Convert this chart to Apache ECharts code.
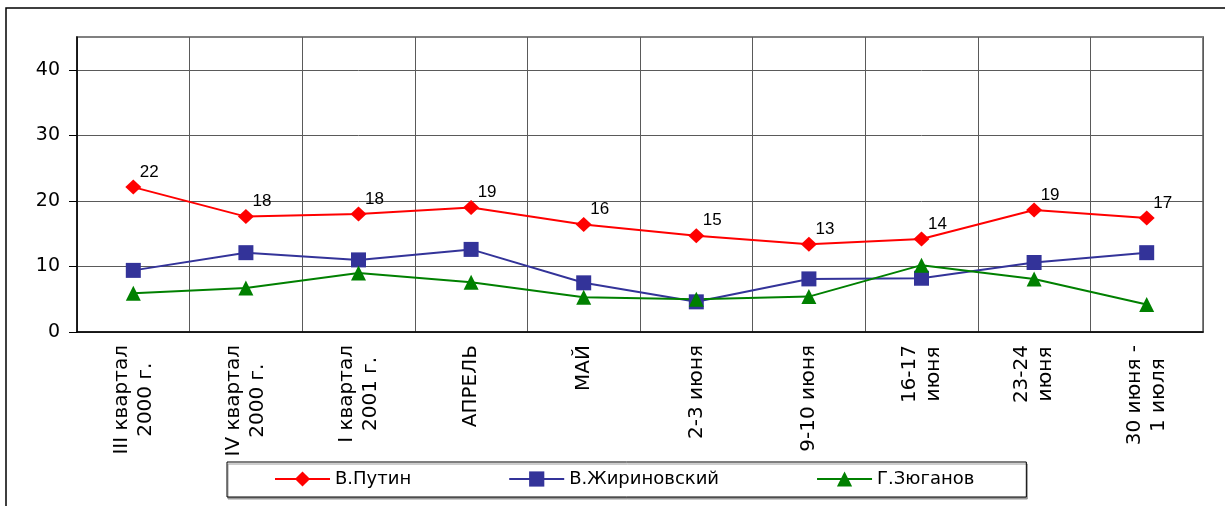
<!DOCTYPE html>
<html>
<head>
<meta charset="utf-8">
<script src="https://cdn.jsdelivr.net/npm/echarts@6/dist/echarts.min.js"></script>
<style>
  html, body { margin: 0; padding: 0; background: #fff; }
  #chart { width: 1225px; height: 506px; }
</style>
</head>
<body>
<div id="chart"></div>
<script>
// категории по оси X
const categories = [
  'III квартал\n2000 г.', 'IV квартал\n2000 г.', 'I квартал\n2001 г.', 'АПРЕЛЬ', 'МАЙ',
  '2-3 июня', '9-10 июня', '16-17\nиюня', '23-24\nиюня', '30 июня -\n1 июля'
]
// значения
const putin = [22.1, 17.6, 18.0, 19.0, 16.4, 14.7, 13.4, 14.2, 18.6, 17.4]
const zhirinovsky = [9.4, 12.1, 11.0, 12.6, 7.5, 4.6, 8.1, 8.2, 10.6, 12.1]
const zyuganov = [5.9, 6.7, 9.0, 7.6, 5.3, 5.0, 5.4, 10.2, 8.1, 4.2]
const yTicks = [0, 10, 20, 30, 40]

const font = 'Liberation Sans, Arial, sans-serif'
const wideFont = 'DejaVu Sans, Verdana, sans-serif'
const catSize = 20
const catMargin = 13

const ctx = document.createElement('canvas').getContext('2d')
ctx.font = catSize + 'px "DejaVu Sans"'

const chart = echarts.init(document.getElementById('chart'))

const option = {
  backgroundColor: '#fff',
  animation: false,
  textStyle: { fontFamily: font, color: '#000' },
  graphic: [{
    // рамка вокруг всей диаграммы
    id: 'frame',
    type: 'rect',
    shape: { x: 6, y: 8, width: 1300, height: 600 },
    style: { fill: 'none', stroke: '#000', lineWidth: 1.5 },
    silent: true
  }],
  grid: {
    left: 77, right: 22, top: 37, bottom: 174,
    show: true,
    borderColor: '#808080',
    borderWidth: 2
  },
  legend: {
    left: 227,
    top: 462,
    padding: [8, 52, 9, 47],
    borderColor: '#000',
    borderWidth: 1,
    backgroundColor: '#fff',
    shadowColor: '#9a9a9a',
    shadowBlur: 0,
    shadowOffsetX: 1,
    shadowOffsetY: 2,
    itemWidth: 55,
    itemHeight: 19,
    itemGap: 97,
    textStyle: { fontFamily: wideFont, fontSize: 18, color: '#000' },
    data: ['В.Путин', 'В.Жириновский', 'Г.Зюганов']
  },
  xAxis: {
    type: 'category',
    data: categories,
    boundaryGap: true,
    axisLine: { lineStyle: { color: '#000', width: 1.5 } },
    axisTick: { length: 5, lineStyle: { color: '#000' } },
    splitLine: { show: true, lineStyle: { color: '#5a5a5a', width: 1 } },
    // подписи рисуются ниже отдельно, чтобы строки были по центру друг друга
    axisLabel: { show: false }
  },
  yAxis: {
    type: 'value',
    min: 0,
    max: 45,
    interval: 10,
    axisLine: { show: true, lineStyle: { color: '#000', width: 1.5 } },
    axisTick: { show: true, length: 8, customValues: yTicks, lineStyle: { color: '#000' } },
    splitLine: { lineStyle: { color: '#5a5a5a', width: 1 } },
    axisLabel: {
      margin: 17,
      fontFamily: wideFont,
      fontSize: 19,
      color: '#000',
      customValues: yTicks,
      formatter: v => (yTicks.includes(v) ? String(v) : '')
    }
  },
  series: [
    {
      name: 'В.Путин',
      type: 'line',
      data: putin,
      symbol: 'diamond',
      symbolSize: [16, 15],
      lineStyle: { color: '#ff0000', width: 2 },
      itemStyle: { color: '#ff0000' },
      label: {
        show: true,
        position: 'top',
        offset: [16, 6],
        fontFamily: font,
        fontSize: 17,
        color: '#000',
        formatter: p => Math.round(p.value)
      }
    },
    {
      name: 'В.Жириновский',
      type: 'line',
      data: zhirinovsky,
      symbol: 'rect',
      symbolSize: 15,
      lineStyle: { color: '#333399', width: 2 },
      itemStyle: { color: '#333399' }
    },
    {
      name: 'Г.Зюганов',
      type: 'line',
      data: zyuganov,
      symbol: 'triangle',
      symbolSize: 15,
      lineStyle: { color: '#008000', width: 2 },
      itemStyle: { color: '#008000' }
    }
  ]
}

chart.setOption(option)

// повёрнутые подписи категорий: конец текста у оси, строки центрированы
const axisY = chart.convertToPixel({ yAxisIndex: 0 }, 0)
const catLabels = categories.map((c, i) => {
  const w = Math.max(...c.split('\n').map(l => ctx.measureText(l).width))
  return {
    id: 'cat' + i,
    type: 'text',
    x: chart.convertToPixel({ xAxisIndex: 0 }, i),
    y: axisY + catMargin + w / 2,
    rotation: Math.PI / 2,
    silent: true,
    style: {
      text: c,
      align: 'center',
      verticalAlign: 'middle',
      fontFamily: wideFont,
      fontSize: catSize,
      lineHeight: 24,
      fill: '#000'
    }
  }
})
chart.setOption({ graphic: catLabels })

window.addEventListener('resize', () => {
  chart.resize()
})
</script>
</body>
</html>
